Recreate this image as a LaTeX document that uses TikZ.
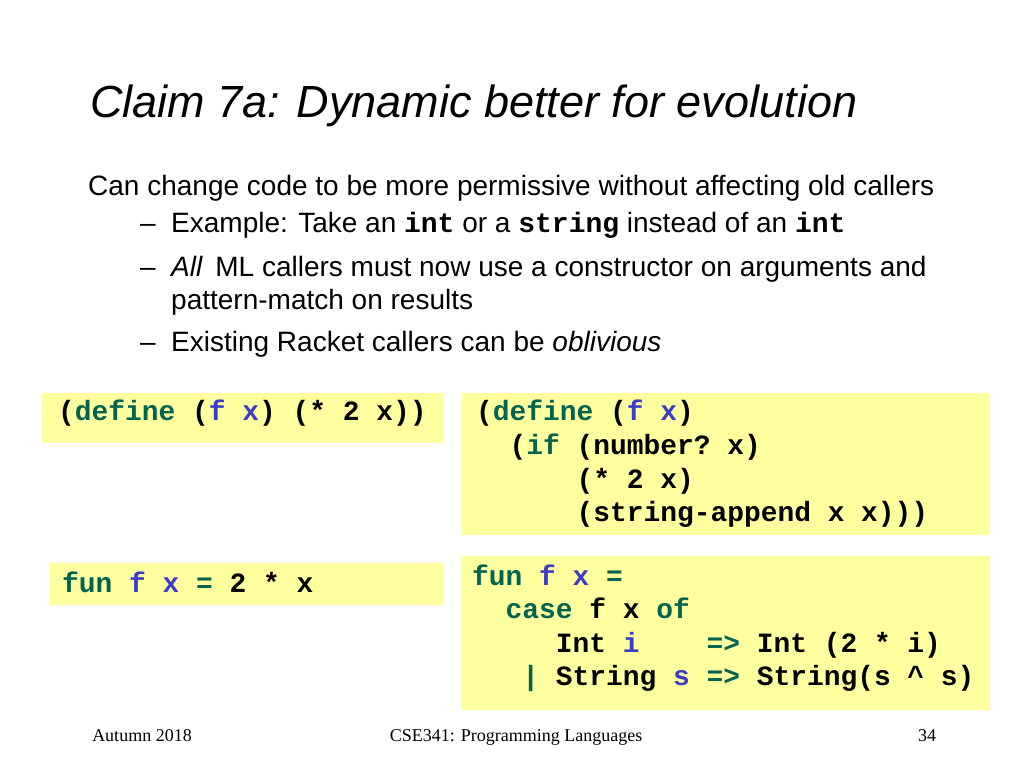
\documentclass[tikz,border=0pt]{standalone}
\usepackage{fontspec}
\setmainfont{Liberation Sans}
\setmonofont{Liberation Mono}
\newfontfamily\footfont{Liberation Serif}
\definecolor{kw}{RGB}{0,100,80}
\definecolor{id}{RGB}{60,60,200}
\definecolor{boxbg}{RGB}{255,255,160}
\newcommand{\K}[1]{\textcolor{kw}{#1}}
\newcommand{\I}[1]{\textcolor{id}{#1}}
\begin{document}
\begin{tikzpicture}[x=1pt,y=1pt,
  codebox/.style={fill=boxbg,draw=none},
  code/.style={anchor=base west,inner sep=0pt,font=\ttfamily\bfseries\fontsize{27.9}{30}\selectfont},
  body/.style={anchor=base west,inner sep=0pt,font=\fontsize{28}{32}\selectfont},
  foot/.style={anchor=base,inner sep=0pt,font=\footfont\fontsize{18}{20}\selectfont}]
\useasboundingbox (0,0) rectangle (1024,-768);
\fill[white] (0,0) rectangle (1024,-768);
\node[anchor=base west,inner sep=0pt,font=\itshape\fontsize{45}{48}\selectfont] (title) at (90,-117) {Claim 7a: Dynamic better for evolution};
\node[body] (b1) at (88,-195) {Can change code to be more permissive without affecting old callers};
\node[body] (d1) at (140,-232) {--};
\node[body] (b2) at (171,-232) {Example: Take an \texttt{\textbf{int}} or a \texttt{\textbf{string}} instead of an \texttt{\textbf{int}}};
\node[body] (d2) at (140,-276) {--};
\node[body] (b3) at (171,-276) {\textit{All}\, ML callers must now use a constructor on arguments and};
\node[body] (b4) at (171,-309) {pattern-match on results};
\node[body] (d3) at (140,-351) {--};
\node[body] (b5) at (171,-351) {Existing Racket callers can be \textit{oblivious}};
\fill[codebox] (42,-393) rectangle (443,-443);
\fill[codebox] (461,-393) rectangle (990,-535);
\fill[codebox] (50,-563) rectangle (443,-605);
\fill[codebox] (461,-556) rectangle (990,-710);
\node[code] (c1) at (58,-420) {(\K{define} (\I{f} \I{x}) (* 2 x))};
\node[code] (c2a) at (476,-420) {(\K{define} (\I{f} \I{x})};
\node[code] (c2b) at (476,-454) {~~(\K{if} (number? x)};
\node[code] (c2c) at (476,-488) {~~~~~~(* 2 x)};
\node[code] (c2d) at (476,-521) {~~~~~~(string-append x x)))};
\node[code] (c3) at (62,-592) {\K{fun} \I{f} \I{x} \K{=} 2 * x};
\node[code] (c4a) at (472,-585) {\K{fun} \I{f} \I{x} \K{=}};
\node[code] (c4b) at (472,-618) {~~\K{case} f x \K{of}};
\node[code] (c4c) at (472,-652) {~~~~~Int \I{i}~~~~\K{=>} Int (2 * i)};
\node[code] (c4d) at (472,-685) {~~~\K{|} String \I{s} \K{=>} String(s \^{} s)};
\node[foot] (f1) at (142,-741) {Autumn 2018};
\node[foot] (f2) at (516,-741) {CSE341: Programming Languages};
\node[foot] (f3) at (927,-741) {34};
\end{tikzpicture}
\end{document}
